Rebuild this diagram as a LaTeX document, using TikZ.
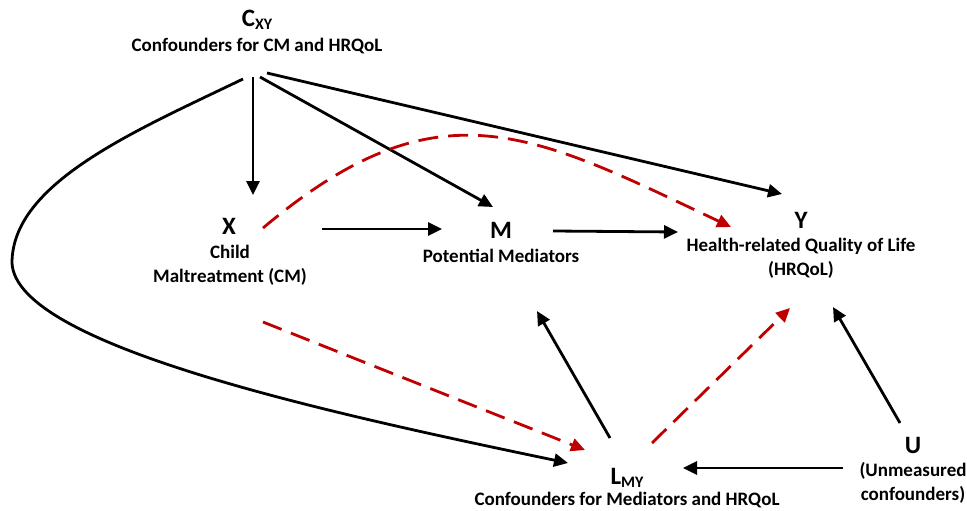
\documentclass[tikz,border=0pt]{standalone}
\usepackage{fontspec}
\setmainfont{Carlito}
\usepackage{tikz}
\usetikzlibrary{arrows.meta}
\definecolor{dashred}{RGB}{192,0,0}
\newcommand{\lowsub}[1]{\raisebox{-3pt}{\fontsize{16}{16}\selectfont #1}}
\tikzstyle{arrow} = [draw, line width=2.8pt, -{Triangle[length=14pt,width=13pt]}]
\tikzstyle{redarrow} = [arrow, color=dashred, dash pattern=on 20pt off 10pt]
\tikzstyle{letter} = [anchor=base, inner sep=0pt, font=\bfseries\fontsize{25}{29}\selectfont]
\tikzstyle{desc} = [anchor=base, inner sep=0pt, align=center, font=\bfseries\fontsize{19}{23.5}\selectfont]

\begin{document}
\begin{tikzpicture}[x=1pt,y=-1pt]
\useasboundingbox (0,0) rectangle (967,511);

\node[letter] (C) at (257,27) {C\lowsub{XY}};
\node[desc] (Ct) at (257,52) {Confounders for CM and HRQoL};
\node[letter] (X) at (229,234) {X};
\node[desc] (Xt) at (230,282) {Child\\Maltreatment (CM)};
\node[letter] (M) at (501,238) {M};
\node[desc] (Mt) at (501,262) {Potential Mediators};
\node[letter] (Y) at (801,228) {Y};
\node[desc] (Yt) at (801,275) {Health-related Quality of Life\\(HRQoL)};
\node[letter] (L) at (627,484) {L\lowsub{MY}};
\node[desc] (Lt) at (627,505) {Confounders for Mediators and HRQoL};
\node[letter] (U) at (913,453) {U};
\node[desc] (Ut) at (913,500) {(Unmeasured\\confounders)};

\draw[arrow] ([shift={(-4,25)}]Ct.base) -- ([shift={(24,-39)}]X.base);
\draw[arrow] ([shift={(3,25)}]Ct.base) -- ([shift={(-8,-31)}]M.base);
\draw[arrow] ([shift={(10,21)}]Ct.base) -- ([shift={(-19,-34)}]Y.base);
\draw[arrow] ([shift={(-14,27)}]Ct.base) .. controls (135,131) and (12,183) .. (12,263)
  .. controls (16,345) and (323,412) .. ([shift={(-59,-21)}]L.base);

\draw[arrow] ([shift={(93,-5)}]X.base) -- ([shift={(-59,-9)}]M.base);
\draw[arrow] ([shift={(52,-7)}]M.base) -- ([shift={(-123,4)}]Y.base);
\draw[redarrow] ([shift={(34,-6)}]X.base) .. controls (439,80) and (532,133) .. ([shift={(-70,-1)}]Y.base);
\draw[redarrow] ([shift={(34,88)}]X.base) -- ([shift={(-42,-34)}]L.base);

\draw[arrow] ([shift={(-17,-46)}]L.base) -- ([shift={(36,73)}]M.base);
\draw[redarrow] ([shift={(25,-41)}]L.base) -- ([shift={(-11,80)}]Y.base);
\draw[arrow] ([shift={(-13,-30)}]U.base) -- ([shift={(32,79)}]Y.base);
\draw[arrow] ([shift={(-70,15)}]U.base) -- ([shift={(56,-16)}]L.base);
%\draw[arrow] (U) -- (L);
\end{tikzpicture}
\end{document}
